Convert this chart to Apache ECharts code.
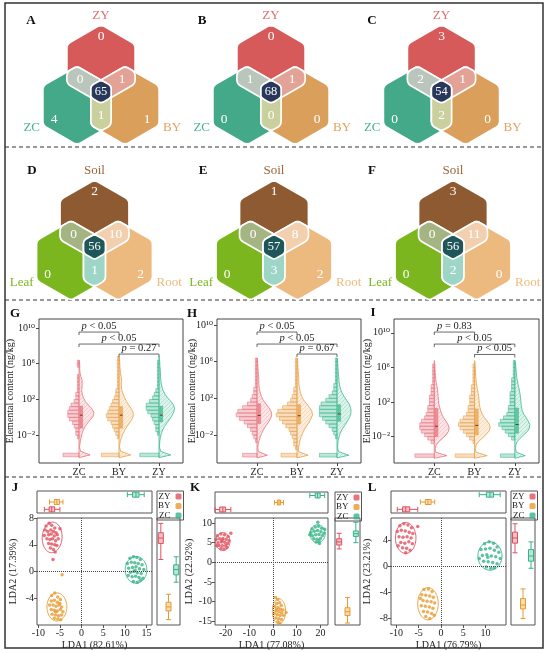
<!DOCTYPE html>
<html><head><meta charset="utf-8">
<script src="https://cdn.jsdelivr.net/npm/echarts@6/dist/echarts.min.js"></script>
<style>html,body{margin:0;padding:0;background:#fff}#c{width:550px;height:653px}</style>
</head><body><div id="c"></div>
<script>
// ================= DATA =================
// Venn region order: [top only, left only, right only, top∩left, top∩right, left∩right, all three]
const setsABC = ['ZY', 'ZC', 'BY'];
const setsDEF = ['Soil', 'Leaf', 'Root'];
const vennA = [0, 4, 1, 0, 1, 1, 65];
const vennB = [0, 0, 0, 1, 1, 0, 68];
const vennC = [3, 0, 0, 2, 1, 2, 54];
const vennD = [2, 0, 2, 0, 10, 1, 56];
const vennE = [1, 0, 2, 0, 8, 3, 57];
const vennF = [3, 0, 0, 0, 11, 2, 56];

// Violin panels (log10 elemental content)
const violinCats = ['ZC', 'BY', 'ZY'];
const yTickLog = [-2, 2, 6, 10];
const binLog = [-4.2,-3.8,-3.4,-3.0,-2.6,-2.2,-1.8,-1.4,-1.0,-0.6,-0.2,0.2,0.6,1.0,1.4,1.8,2.2,2.6,3.0,3.4,3.8,4.2,4.6,5.0,5.4,5.8,6.2,6.6];
const gHistZC = [10,0,0,0,0,1,2,2,3,4,6,7,7,6,5,3,2,2,1,1,1,1,1,0,0,1,1,0];
const gHistBY = [11,0,0,0,0,1,2,3,4,5,7,8,7,6,5,4,3,2,2,1,1,1,1,1,1,1,1,1];
const gHistZY = [12,0,0,0,0,0,1,2,2,3,4,5,7,8,8,6,4,3,2,1,1,1,1,1,1,1,1,0];
const gDensZC = [0.75,0.12,0.04,0.06,0.1,0.15,0.2,0.3,0.42,0.6,0.8,0.98,1.0,0.85,0.62,0.42,0.3,0.22,0.18,0.2,0.22,0.2,0.12,0.07,0.05,0.05,0.04,0.0];
const gDensBY = [0.8,0.12,0.04,0.05,0.1,0.18,0.28,0.4,0.55,0.72,0.88,0.97,0.95,0.82,0.65,0.5,0.38,0.28,0.2,0.16,0.16,0.18,0.14,0.1,0.08,0.06,0.05,0.03];
const gDensZY = [0.8,0.12,0.04,0.04,0.06,0.1,0.16,0.25,0.38,0.55,0.72,0.88,1.0,1.05,0.98,0.8,0.58,0.4,0.28,0.2,0.15,0.12,0.1,0.1,0.08,0.06,0.05,0.02];
const gBox = [[-1.2, 0.25, 1.25], [-1.2, 0.25, 1.2], [-0.5, 0.25, 1.25]];
const gP = ['p < 0.05', 'p < 0.05', 'p = 0.27'];
const gLevels = [9.54, 8.2, 7.08];

const hHistZC = [9,0,0,0,1,2,3,4,6,8,11,13,12,9,6,4,3,2,2,1,1,1,1,1,1,1,1,0];
const hHistBY = [10,0,1,2,2,3,4,5,7,9,11,13,12,9,6,4,3,2,2,1,1,1,1,1,1,1,1,0];
const hHistZY = [11,0,0,0,0,1,2,3,5,7,9,11,11,11,10,7,5,3,2,2,1,1,1,1,1,1,1,0];
const hDensZC = [0.7,0.1,0.05,0.08,0.14,0.22,0.32,0.45,0.6,0.78,0.92,1.0,0.95,0.8,0.6,0.42,0.3,0.22,0.16,0.13,0.12,0.12,0.1,0.08,0.06,0.05,0.03,0.0];
const hDensBY = [0.75,0.1,0.1,0.15,0.2,0.28,0.38,0.5,0.65,0.82,0.95,1.05,1.0,0.85,0.65,0.45,0.32,0.24,0.18,0.14,0.12,0.12,0.1,0.08,0.06,0.05,0.04,0.0];
const hDensZY = [0.8,0.1,0.04,0.05,0.08,0.14,0.22,0.34,0.5,0.66,0.8,0.92,0.95,0.92,0.82,0.65,0.48,0.34,0.24,0.18,0.14,0.12,0.1,0.08,0.06,0.05,0.04,0.0];
const hBox = [[-0.75, 0.14, 1.4], [-0.8, 0.1, 1.3], [-0.5, 0.3, 1.3]];
const hP = ['p < 0.05', 'p < 0.05', 'p = 0.67'];
const hLevels = [9.23, 7.92, 6.83];

const iHistZC = [12,0,0,0,2,4,6,8,9,9,8,6,5,4,4,3,3,3,2,2,2,1,1,1,1,1,1,0];
const iHistBY = [12,0,0,0,1,3,5,7,9,10,9,7,5,4,4,3,3,3,2,2,2,1,1,1,1,1,1,0];
const iHistZY = [9,0,0,0,0,2,4,6,8,10,9,7,5,4,4,3,3,3,3,2,2,2,2,1,1,1,1,1];
const iDensZC = [0.85,0.1,0.06,0.12,0.3,0.55,0.8,0.95,1.0,0.92,0.78,0.62,0.5,0.42,0.36,0.3,0.28,0.26,0.24,0.22,0.18,0.14,0.1,0.08,0.06,0.05,0.04,0.02];
const iDensBY = [0.85,0.1,0.05,0.1,0.25,0.5,0.75,0.95,1.05,1.0,0.85,0.66,0.52,0.42,0.36,0.32,0.3,0.28,0.24,0.2,0.16,0.12,0.1,0.08,0.06,0.05,0.04,0.03];
const iDensZY = [0.7,0.1,0.04,0.06,0.15,0.35,0.6,0.85,0.98,1.0,0.9,0.75,0.6,0.5,0.45,0.42,0.4,0.38,0.34,0.3,0.25,0.2,0.15,0.12,0.1,0.08,0.06,0.04];
const iBox = [[-2.0, -0.8, 1.25], [-1.8, -0.7, 1.2], [-1.6, -0.6, 1.3]];
const iP = ['p = 0.83', 'p < 0.05', 'p < 0.05'];
const iLevels = [10.09, 8.7, 7.5];
const bracketPairs = [[1, 2], [1, 3], [2, 3]];

// LDA panels
const ldaGroups = ['ZY', 'BY', 'ZC'];
const jZY = [[-8.2,6.8],[-7.5,7.2],[-6.9,6.9],[-6.2,6.5],[-7.8,6.0],[-7.1,6.2],[-6.5,6.0],[-5.9,5.8],[-8.6,5.4],[-7.6,5.5],[-7.0,5.6],[-6.3,5.3],[-5.6,5.5],[-8.0,4.9],[-7.3,4.8],[-6.7,4.9],[-6.0,4.6],[-5.4,4.9],[-7.6,4.2],[-6.9,4.1],[-6.2,4.0],[-5.7,3.9],[-7.2,3.5],[-6.5,3.3],[-6.1,2.9],[-6.6,1.8],[-5.0,6.4],[-8.4,6.2]];
const jBY = [[-6.9,-3.6],[-6.2,-3.2],[-5.5,-3.8],[-7.0,-4.4],[-6.3,-4.3],[-5.6,-4.6],[-4.9,-4.2],[-7.4,-5.0],[-6.6,-5.0],[-5.9,-5.2],[-5.2,-5.0],[-4.6,-5.3],[-7.0,-5.7],[-6.3,-5.8],[-5.6,-5.9],[-4.9,-5.7],[-4.3,-6.0],[-6.8,-6.4],[-6.0,-6.5],[-5.3,-6.6],[-4.6,-6.5],[-6.3,-7.0],[-5.5,-7.1],[-4.8,-7.2],[-4.5,-0.5],[-5.0,-4.8],[-6.0,-6.0]];
const jZC = [[11.2,2.0],[12.0,2.2],[12.8,2.1],[13.6,1.8],[10.6,1.2],[11.5,1.4],[12.3,1.3],[13.1,1.2],[14.0,1.0],[10.9,0.5],[11.8,0.6],[12.6,0.7],[13.4,0.4],[14.4,0.3],[11.3,-0.1],[12.1,0.0],[12.9,-0.2],[13.8,-0.3],[10.8,-0.6],[11.7,-0.8],[12.5,-0.7],[13.3,-0.9],[14.2,-1.0],[12.0,-1.5],[12.9,-1.6],[13.6,-1.3],[12.4,0.2]];
const jEll = [[-6.8,5.1,2.3,2.3,-8],[-5.7,-5.3,2.3,2.1,0],[12.6,0.25,2.5,2.0,0]];
const jBoxX = [[-8.6,-7.5,-6.9,-6.2,-5.0],[-7.4,-6.3,-5.7,-5.1,-4.3],[10.6,11.8,12.6,13.3,14.5]];
const jBoxY = [[1.8,4.2,5.0,5.8,7.2],[-7.2,-5.9,-5.3,-4.6,-3.4],[-1.6,-0.5,0.3,1.0,2.2]];

const kZY = [[-23.5,6.8],[-22.0,7.2],[-20.5,7.0],[-19.0,6.6],[-24.0,5.8],[-22.6,6.0],[-21.2,6.1],[-19.8,5.9],[-18.6,5.5],[-23.2,5.0],[-21.8,5.2],[-20.4,5.1],[-19.2,4.8],[-22.8,4.3],[-21.4,4.2],[-20.0,4.3],[-22.0,3.5],[-20.7,3.4],[-19.5,3.8],[-21.5,5.6],[-17.8,7.4],[-23.8,4.2]];
const kBY = [[1.0,-9.0],[2.0,-9.5],[1.5,-10.5],[2.8,-10.3],[3.5,-11.0],[0.8,-11.3],[2.2,-11.6],[3.2,-12.0],[4.2,-12.2],[1.2,-12.4],[2.4,-12.6],[3.6,-12.9],[0.6,-13.1],[1.8,-13.4],[3.0,-13.6],[4.4,-13.5],[1.2,-14.2],[2.4,-14.4],[3.6,-14.6],[2.0,-15.2],[2.9,-15.5],[5.5,-12.8],[1.5,-12.0]];
const kZC = [[16.5,8.5],[17.8,9.0],[19.2,9.2],[20.5,8.7],[16.0,7.6],[17.4,7.9],[18.8,8.1],[20.2,7.8],[21.5,7.4],[16.6,6.8],[18.0,7.0],[19.4,7.1],[20.8,6.8],[17.2,6.0],[18.6,5.9],[20.0,6.1],[18.2,5.2],[19.4,5.4],[15.5,7.0],[21.8,8.4],[18.9,10.2],[19.6,4.8]];
const kEll = [[-21.2,5.3,3.0,2.3,0],[2.5,-12.5,2.8,3.2,0],[18.8,7.3,3.2,2.3,0]];
const kBoxX = [[-24.5,-22.5,-21.2,-20.0,-17.8],[0.6,1.8,2.5,3.2,4.4],[15.5,17.8,18.8,19.9,21.8]];
const kBoxY = [[3.4,4.4,5.2,6.0,7.4],[-15.5,-13.6,-12.6,-11.6,-9.0],[5.0,6.6,7.3,8.0,10.2]];

const lZY = [[-9.2,6.3],[-8.3,6.6],[-7.4,6.4],[-6.6,6.0],[-9.8,5.4],[-8.9,5.6],[-8.0,5.5],[-7.1,5.3],[-6.3,5.1],[-9.4,4.6],[-8.5,4.5],[-7.6,4.6],[-6.7,4.4],[-9.0,3.7],[-8.1,3.6],[-7.2,3.8],[-6.4,3.5],[-8.6,2.9],[-7.7,2.8],[-6.9,2.5],[-7.9,2.1],[-5.2,6.2],[-9.6,3.2]];
const lBY = [[-3.8,-3.6],[-2.8,-3.5],[-2.0,-3.9],[-4.3,-4.4],[-3.4,-4.5],[-2.5,-4.6],[-1.7,-4.8],[-4.0,-5.3],[-3.1,-5.4],[-2.2,-5.5],[-1.4,-5.7],[-4.4,-6.1],[-3.5,-6.2],[-2.6,-6.3],[-1.8,-6.5],[-3.9,-7.0],[-3.0,-7.1],[-2.1,-7.3],[-3.4,-7.8],[-2.5,-8.1],[-4.6,-5.0],[-1.5,-7.6]];
const lZC = [[9.8,3.5],[10.8,3.8],[11.8,3.6],[12.6,3.0],[9.0,2.6],[10.0,2.7],[11.0,2.8],[12.0,2.5],[13.0,2.2],[9.3,1.7],[10.3,1.8],[11.3,1.6],[12.3,1.5],[13.3,1.2],[9.6,0.8],[10.6,0.7],[11.6,0.6],[12.6,0.4],[10.2,-0.1],[11.2,-0.3],[12.0,-0.2],[8.6,1.2],[10.5,1.4]];
const lEll = [[-7.9,4.4,2.3,2.4,0],[-2.9,-5.8,2.3,2.5,0],[11.0,1.6,2.7,2.2,0]];
const lBoxX = [[-9.8,-8.6,-7.9,-7.0,-5.2],[-4.6,-3.5,-2.9,-2.2,-1.4],[8.6,10.2,11.0,11.8,13.3]];
const lBoxY = [[2.1,3.6,4.4,5.3,6.6],[-8.1,-6.6,-6.0,-5.0,-3.5],[-0.3,0.8,1.6,2.6,3.8]];

// ================= STYLE / LAYOUT =================
const FONT = "'Liberation Serif','DejaVu Serif',serif";
const palABC = ['#D65A5A','#44A988','#D99F5B','#BAC6BC','#E2A396','#C9CF9D','#28375A'];
const nameColABC = ['#E06A6A','#44B38D','#E2A25E'];
const palDEF = ['#8E5A31','#7BB61F','#ECB97E','#A4B483','#F2CFAE','#9DD5C6','#1F5659'];
const nameColDEF = ['#9E6439','#7BB61F','#EDBB80'];
const violinColors = ['#E8737C','#E9A04A','#3FB98F'];
const ldaColors = ['#E0505E','#E89A2E','#35B487'];

function rgba(hex, a){const n=parseInt(hex.slice(1),16);return `rgba(${n>>16&255},${n>>8&255},${n&255},${a})`;}
function hatch(col){const c=document.createElement('canvas');c.width=4;c.height=4;const x=c.getContext('2d');
  x.fillStyle=rgba(col,0.18);x.fillRect(0,0,4,4);x.strokeStyle=rgba(col,0.42);x.lineWidth=0.6;
  x.beginPath();x.moveTo(0,4);x.lineTo(4,0);x.moveTo(-1,1);x.lineTo(1,-1);x.moveTo(3,5);x.lineTo(5,3);x.stroke();
  return {image:c,repeat:'repeat'};}

const grids=[], xAxes=[], yAxes=[], series=[], legends=[];
function addGrid(g, xa, ya){grids.push(g);const i=grids.length-1;xAxes.push(Object.assign({gridIndex:i},xa));yAxes.push(Object.assign({gridIndex:i},ya));return i;}

// ---------- Venn geometry helpers ----------
function hexPts(cx,cy,R){const p=[];for(let k=0;k<6;k++){const a=Math.PI/180*(-90+60*k);p.push([cx+R*Math.cos(a),cy+R*Math.sin(a)]);}return p;}
function isect(P,Q,A,B){const x1=P[0],y1=P[1],x2=Q[0],y2=Q[1],x3=A[0],y3=A[1],x4=B[0],y4=B[1];const den=(x1-x2)*(y3-y4)-(y1-y2)*(x3-x4);const t=((x1-x3)*(y3-y4)-(y1-y3)*(x3-x4))/den;return [x1+t*(x2-x1),y1+t*(y2-y1)];}
function clip(subject, cp){let out=subject;for(let i=0;i<cp.length;i++){const A=cp[i],B=cp[(i+1)%cp.length];const inp=out;out=[];const ins=p=>(B[0]-A[0])*(p[1]-A[1])-(B[1]-A[1])*(p[0]-A[0])>=-1e-9;for(let j=0;j<inp.length;j++){const P=inp[j],Q=inp[(j+1)%inp.length];const pi=ins(P),qi=ins(Q);if(pi)out.push(P);if(pi!==qi)out.push(isect(P,Q,A,B));}}
  const d=[];out.forEach(p=>{if(!d.length||Math.hypot(p[0]-d[d.length-1][0],p[1]-d[d.length-1][1])>0.05)d.push(p);});
  if(d.length>1&&Math.hypot(d[0][0]-d[d.length-1][0],d[0][1]-d[d.length-1][1])<0.05)d.pop();return d;}
function roundPoly(pts,r,seg){const out=[],n=pts.length;for(let i=0;i<n;i++){const P=pts[(i-1+n)%n],V=pts[i],N=pts[(i+1)%n];const d1=Math.hypot(P[0]-V[0],P[1]-V[1]),d2=Math.hypot(N[0]-V[0],N[1]-V[1]);const t1=Math.min(r/d1,0.45),t2=Math.min(r/d2,0.45);const a=[V[0]+(P[0]-V[0])*t1,V[1]+(P[1]-V[1])*t1],b=[V[0]+(N[0]-V[0])*t2,V[1]+(N[1]-V[1])*t2];for(let k=0;k<=seg;k++){const t=k/seg,u=1-t;out.push([u*u*a[0]+2*u*t*V[0]+t*t*b[0],u*u*a[1]+2*u*t*V[1]+t*t*b[1]]);}}return out;}

function vennRender(L){
  return function(params, api){
    const idx=api.value(0), count=api.value(1);
    const s=L.s,R=L.R,h=s/Math.sqrt(3);
    const HT=hexPts(0,-h,R),HL=hexPts(-s/2,h/2,R),HR=hexPts(s/2,h/2,R);
    const polys=[HT,HL,HR,clip(HT,HL),clip(HT,HR),clip(HL,HR),clip(clip(HT,HL),HR)];
    const pts=roundPoly(polys[idx], idx<6?4:3, 4).map(p=>api.coord(p));
    const lab=[[0,-55],[-47,28],[46,28],[-21,-12],[21,-12],[0,24],[0,0]][idx];
    const lp=api.coord(lab);
    const ch=[{type:'polygon',shape:{points:pts},style:{fill:L.pal[idx],stroke:'#fff',lineWidth:1.7}},
      {type:'text',z2:5,style:{text:String(count),x:lp[0],y:lp[1],align:'center',verticalAlign:'middle',fill:'#fff',fontFamily:FONT,fontSize:idx===6?12.5:13.5}}];
    if(idx<3){
      const np=api.coord([[0,-76],[-61,36],[62,36]][idx]);
      ch.push({type:'text',z2:5,style:{text:L.sets[idx],x:np[0],y:np[1],align:['center','right','left'][idx],verticalAlign:'middle',fill:L.nameCol[idx],fontFamily:FONT,fontSize:13}});
    }
    return {type:'group',children:ch};
  };
}

const vennLayouts=[
  {cx:101,cy:91.7,s:48,R:39.4,vals:vennA,sets:setsABC,pal:palABC,nameCol:nameColABC},
  {cx:271,cy:91.7,s:48,R:39.4,vals:vennB,sets:setsABC,pal:palABC,nameCol:nameColABC},
  {cx:441.5,cy:91.7,s:48,R:39.4,vals:vennC,sets:setsABC,pal:palABC,nameCol:nameColABC},
  {cx:94.5,cy:246.9,s:47,R:39.8,vals:vennD,sets:setsDEF,pal:palDEF,nameCol:nameColDEF},
  {cx:274,cy:246.9,s:47,R:39.8,vals:vennE,sets:setsDEF,pal:palDEF,nameCol:nameColDEF},
  {cx:453,cy:246.9,s:47,R:39.8,vals:vennF,sets:setsDEF,pal:palDEF,nameCol:nameColDEF}
];
vennLayouts.forEach(L=>{
  const gi=addGrid({left:L.cx-85,top:L.cy-90,width:170,height:150,show:false},
    {type:'value',min:-85,max:85,show:false},
    {type:'value',min:-90,max:60,inverse:true,show:false});
  series.push({type:'custom',xAxisIndex:gi,yAxisIndex:gi,silent:true,data:L.vals.map((v,i)=>[i,v]),renderItem:vennRender(L)});
});

// ---------- Violin panels ----------
const HU=0.04, DW=0.37, BW=0.4;
const supMap={'-':'⁻','0':'⁰','1':'¹','2':'²','6':'⁶'};
const hatches=violinColors.map(hatch);
function violinRender(P){
  return function(params, api){
    const i=params.dataIndex, x0=api.value(0), col=violinColors[i];
    const h=P.hist[i], d=P.dens[i], b=P.box[i];
    let last=0;for(let j=0;j<binLog.length;j++){if(h[j]>0||d[j]>0.01)last=j;}
    const ch=[];
    const pts=[api.coord([x0,binLog[0]-0.3])];
    for(let j=0;j<=last;j++)pts.push(api.coord([x0+d[j]*DW,binLog[j]]));
    pts.push(api.coord([x0,binLog[last]+0.2]));
    ch.push({type:'polygon',shape:{points:pts},style:{fill:hatches[i],stroke:col,lineWidth:0.8}});
    for(let j=0;j<binLog.length;j++){if(h[j]<=0)continue;
      const p1=api.coord([x0-h[j]*HU,binLog[j]+BW/2]),p2=api.coord([x0,binLog[j]-BW/2]);
      ch.push({type:'rect',shape:{x:p1[0],y:p1[1],width:p2[0]-p1[0],height:p2[1]-p1[1]},style:{fill:rgba(col,0.36),stroke:rgba(col,0.9),lineWidth:0.6}});}
    const q3=api.coord([x0+0.02,b[2]]),q1=api.coord([x0+0.09,b[0]]),md=api.coord([x0,b[1]]);
    ch.push({type:'rect',shape:{x:q3[0],y:q3[1],width:q1[0]-q3[0],height:q1[1]-q3[1]},style:{fill:rgba(col,0.75),stroke:col,lineWidth:0.6}});
    ch.push({type:'line',shape:{x1:q3[0],y1:md[1],x2:q1[0],y2:md[1]},style:{stroke:'#7a2d10',lineWidth:1}});
    return {type:'group',children:ch};
  };
}
function bracketRender(P){
  return function(params, api){
    const a=api.coord([api.value(0),api.value(2)]),b=api.coord([api.value(1),api.value(2)]);
    const txt=P.p[params.dataIndex].replace(/^p/,'{i|p}');
    return {type:'group',children:[
      {type:'polyline',shape:{points:[[a[0],a[1]+3],a,b,[b[0],b[1]+3]]},style:{stroke:'#444',lineWidth:0.8,fill:null}},
      {type:'text',style:{text:txt,rich:{i:{fontStyle:'italic',fontFamily:FONT,fontSize:10.5,fill:'#222'}},x:(a[0]+b[0])/2,y:a[1]-0.5,align:'center',verticalAlign:'bottom',fontFamily:FONT,fontSize:10.5,fill:'#222'}}]};
  };
}
const violinPanels=[
  {grid:{left:39,top:319,width:144,height:144},gap:24,yr:[-5.1,11.0],hist:[gHistZC,gHistBY,gHistZY],dens:[gDensZC,gDensBY,gDensZY],box:gBox,p:gP,lv:gLevels},
  {grid:{left:217,top:319,width:144,height:144},gap:20,yr:[-5.05,10.65],hist:[hHistZC,hHistBY,hHistZY],dens:[hDensZC,hDensBY,hDensZY],box:hBox,p:hP,lv:hLevels},
  {grid:{left:394,top:319,width:145,height:144},gap:22,yr:[-5.05,11.6],hist:[iHistZC,iHistBY,iHistZY],dens:[iDensZC,iDensBY,iDensZY],box:iBox,p:iP,lv:iLevels}
];
violinPanels.forEach(P=>{
  const gi=addGrid(Object.assign({show:true,borderColor:'#444',borderWidth:1},P.grid),
    {type:'value',min:0,max:3.6,splitLine:{show:false},axisLine:{show:false,onZero:false},
      axisTick:{show:true,length:3,customValues:[1,2,3],lineStyle:{color:'#444'}},
      axisLabel:{customValues:[1,2,3],formatter:v=>violinCats[Math.round(v)-1]||'',fontFamily:FONT,fontSize:10,color:'#222',margin:4}},
    {type:'value',min:P.yr[0],max:P.yr[1],splitLine:{show:false},axisLine:{show:false,onZero:false},
      axisTick:{show:true,length:3,customValues:yTickLog,lineStyle:{color:'#444'}},
      axisLabel:{customValues:yTickLog,margin:4,fontFamily:FONT,fontSize:10,color:'#222',
        formatter:v=>'10{s|'+String(Math.round(v)).split('').map(c=>supMap[c]||c).join('')+'}',
        rich:{s:{fontFamily:FONT,fontSize:10,color:'#222'}}},
      name:'Elemental content (ng/kg)',nameLocation:'middle',nameGap:P.gap,nameMoveOverlap:false,nameTextStyle:{fontFamily:FONT,fontSize:10,color:'#222'}});
  series.push({type:'custom',xAxisIndex:gi,yAxisIndex:gi,silent:true,data:violinCats.map((c,i)=>[i+1,0]),renderItem:violinRender(P)});
  series.push({type:'custom',xAxisIndex:gi,yAxisIndex:gi,silent:true,data:bracketPairs.map((pr,k)=>[pr[0],pr[1],P.lv[k]]),renderItem:bracketRender(P)});
});

// ---------- LDA panels ----------
function ellipseRender(params, api){
  const cx=api.value(0),cy=api.value(1),rx=api.value(2),ry=api.value(3),ang=api.value(4)*Math.PI/180;
  const pts=[];for(let k=0;k<=72;k++){const t=k/72*2*Math.PI;const ex=rx*Math.cos(t),ey=ry*Math.sin(t);
    pts.push(api.coord([cx+ex*Math.cos(ang)-ey*Math.sin(ang),cy+ex*Math.sin(ang)*0.6+ey*Math.cos(ang)]));}
  return {type:'polyline',shape:{points:pts},style:{stroke:ldaColors[params.dataIndex],lineWidth:0.9,fill:null}};
}
const ldaPanels=[
  {main:{left:37,top:518,width:115,height:107},top:{left:37,top:491,width:115,height:22},right:{left:157,top:518,width:23,height:107},gap:19,
   xr:[-10.3,16.3],yr:[-8,8],xt:[-10,-5,0,5,10,15],yt:[-4,0,4,8],xName:'LDA1 (82.61%)',yName:'LDA2 (17.39%)',pts:[jZY,jBY,jZC],ell:jEll,bx:jBoxX,by:jBoxY},
  {main:{left:215,top:518,width:113,height:107},top:{left:215,top:492,width:113,height:21},right:{left:335,top:518,width:25,height:107},gap:21,
   xr:[-24.5,23.2],yr:[-16,11.3],xt:[-20,-10,0,10,20],yt:[-15,-10,-5,0,5,10],xName:'LDA1 (77.08%)',yName:'LDA2 (22.92%)',pts:[kZY,kBY,kZC],ell:kEll,bx:kBoxX,by:kBoxY},
  {main:{left:391,top:518,width:115,height:107},top:{left:391,top:491,width:115,height:22},right:{left:511,top:518,width:24,height:107},gap:19,
   xr:[-11.2,14.6],yr:[-9.1,7.5],xt:[-10,-5,0,5,10],yt:[-8,-4,0,4],xName:'LDA1 (76.79%)',yName:'LDA2 (23.21%)',pts:[lZY,lBY,lZC],ell:lEll,bx:lBoxX,by:lBoxY}
];
const gridBox={show:true,borderColor:'#555',borderWidth:1};
const axFont={fontFamily:FONT,fontSize:10,color:'#222'};
ldaPanels.forEach(P=>{
  const gm=addGrid(Object.assign({},gridBox,P.main),
    {type:'value',min:P.xr[0],max:P.xr[1],splitLine:{show:false},axisLine:{show:false,onZero:false},
     axisTick:{show:true,length:3,customValues:P.xt,lineStyle:{color:'#555'}},
     axisLabel:Object.assign({customValues:P.xt,margin:3},axFont),
     name:P.xName,nameLocation:'middle',nameGap:15,nameMoveOverlap:false,nameTextStyle:axFont},
    {type:'value',min:P.yr[0],max:P.yr[1],splitLine:{show:false},axisLine:{show:false,onZero:false},
     axisTick:{show:true,length:3,customValues:P.yt,lineStyle:{color:'#555'}},
     axisLabel:Object.assign({customValues:P.yt,margin:3},axFont),
     name:P.yName,nameLocation:'middle',nameGap:P.gap,nameMoveOverlap:false,nameTextStyle:axFont});
  ldaGroups.forEach((g,k)=>{
    const s={type:'scatter',name:g,xAxisIndex:gm,yAxisIndex:gm,data:P.pts[k],symbolSize:3.5,silent:true,
      itemStyle:{color:ldaColors[k],opacity:0.8}};
    if(k===0)s.markLine={symbol:['none','none'],silent:true,label:{show:false},lineStyle:{type:'dotted',color:'#444',width:1},data:[{xAxis:0},{yAxis:0}]};
    series.push(s);
  });
  series.push({type:'custom',xAxisIndex:gm,yAxisIndex:gm,silent:true,data:P.ell,renderItem:ellipseRender,z:3});
  const gt=addGrid(Object.assign({},gridBox,P.top),
    {type:'value',min:P.xr[0],max:P.xr[1],show:true,axisLine:{show:false},axisTick:{show:false},axisLabel:{show:false},splitLine:{show:false}},
    {type:'category',data:ldaGroups,show:false});
  series.push({type:'boxplot',xAxisIndex:gt,yAxisIndex:gt,silent:true,boxWidth:[5,5],
    data:P.bx.map((v,k)=>({value:v,itemStyle:{color:rgba(ldaColors[k],0.35),borderColor:ldaColors[k],borderWidth:1}}))});
  const gr=addGrid(Object.assign({},gridBox,P.right),
    {type:'category',data:ldaGroups,show:false},
    {type:'value',min:P.yr[0],max:P.yr[1],show:true,axisLine:{show:false},axisTick:{show:false},axisLabel:{show:false},splitLine:{show:false}});
  series.push({type:'boxplot',xAxisIndex:gr,yAxisIndex:gr,silent:true,boxWidth:[5,5],
    data:P.by.map((v,k)=>({value:v,itemStyle:{color:rgba(ldaColors[k],0.35),borderColor:ldaColors[k],borderWidth:1}}))});
  legends.push({left:P.right.left,top:P.top.top,width:P.right.width,orient:'vertical',align:'right',icon:'roundRect',
    itemWidth:6,itemHeight:6,itemGap:0.5,padding:[1,2,0,1],selectedMode:false,borderColor:'#555',borderWidth:1,
    textStyle:{fontFamily:FONT,fontSize:9,lineHeight:6,color:'#222',padding:[0,0,0,0]},data:ldaGroups});
});

// ---------- frame & panel letters ----------
const letters=[['A',31,21],['B',202,21],['C',372,21],['D',32,171],['E',203,171],['F',372,171],['G',15,314],['H',192,314],['I',373,313],['J',15,488],['K',195,488],['L',372,488]];
const graphic=[
  {type:'rect',shape:{x:5,y:3,width:538,height:645},style:{fill:null,stroke:'#333',lineWidth:1.5},silent:true},
  ...[147,300,477].map(y=>({type:'line',shape:{x1:5,y1:y,x2:543,y2:y},style:{stroke:'#333',lineWidth:1.2,lineDash:[4,3]},silent:true})),
  ...letters.map(l=>({type:'text',x:l[1],y:l[2],style:{text:l[0],fontFamily:FONT,fontSize:13,fontWeight:'bold',fill:'#111',align:'center',verticalAlign:'middle'},silent:true}))
];

const chart=echarts.init(document.getElementById('c'),null,{renderer:'canvas',width:550,height:653});
chart.setOption({animation:false,backgroundColor:'#fff',grid:grids,xAxis:xAxes,yAxis:yAxes,series:series,legend:legends,graphic:graphic});
</script></body></html>
